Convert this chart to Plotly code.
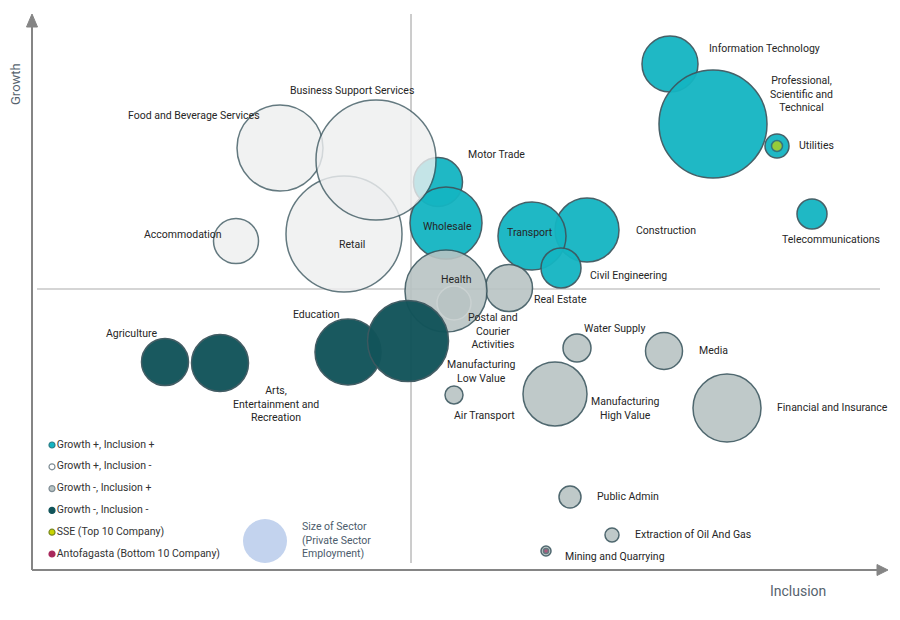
import plotly.graph_objects as go

# ---------------- data ----------------
# inclusion (x), growth (y), sector size (bubble diameter units)
teal_names = ["Construction", "Transport", "Civil Engineering", "Motor Trade", "Wholesale",
              "Information Technology", "Professional, Scientific and Technical",
              "Utilities", "Telecommunications"]
teal_incl = [17.6, 12.1, 15.0, 2.7, 3.5, 25.9, 30.2, 36.6, 40.1]
teal_growth = [5.9, 5.3, 2.1, 10.7, 6.6, 22.5, 16.5, 14.3, 7.5]
teal_size = [64, 68, 40, 49, 72, 56, 108, 24, 30]

light_names = ["Retail", "Food and Beverage Services", "Business Support Services", "Accommodation"]
light_incl = [-6.7, -13.1, -3.5, -17.5]
light_growth = [5.5, 14.1, 12.9, 4.8]
light_size = [116, 86, 120, 45]

grey_names = ["Real Estate", "Health", "Postal and Courier Activities", "Water Supply", "Media",
              "Manufacturing High Value", "Air Transport", "Financial and Insurance",
              "Public Admin", "Extraction of Oil And Gas", "Mining and Quarrying"]
grey_incl = [9.8, 3.5, 4.3, 16.6, 25.3, 14.4, 4.3, 31.6, 15.9, 20.1, 13.5]
grey_growth = [0.1, -0.2, -1.4, -5.9, -6.2, -10.5, -10.6, -11.9, -20.8, -24.6, -26.2]
grey_size = [47, 82, 34, 28, 37, 64, 18, 68, 22, 14, 10]

dark_names = ["Education", "Manufacturing Low Value", "Agriculture", "Arts, Entertainment and Recreation"]
dark_incl = [-6.3, -0.3, -24.6, -19.1]
dark_growth = [-6.3, -5.2, -7.3, -7.4]
dark_size = [66, 81, 47, 57]

companies = ["SSE (Top 10 Company)", "Antofagasta (Bottom 10 Company)"]
company_sector = ["Utilities", "Mining and Quarrying"]
company_size = [11, 5]

legend_labels = ["Growth +, Inclusion +", "Growth +, Inclusion -", "Growth -, Inclusion +",
                 "Growth -, Inclusion -", "SSE (Top 10 Company)", "Antofagasta (Bottom 10 Company)"]

# sector label annotations: text, x, y, xanchor
labels = [
    ("Information Technology", 29.6, 24.1, "left"),
    ("Professional,<br>Scientific and<br>Technical", 39.0, 19.5, "center"),
    ("Utilities", 38.6, 14.4, "left"),
    ("Telecommunications", 42.0, 5.0, "center"),
    ("Construction", 22.3, 5.9, "left"),
    ("Civil Engineering", 17.7, 1.4, "left"),
    ("Real Estate", 12.1, -1.0, "left"),
    ("Transport", 11.9, 5.7, "center"),
    ("Wholesale", 3.6, 6.3, "center"),
    ("Health", 4.5, 1.0, "center"),
    ("Motor Trade", 5.5, 13.5, "left"),
    ("Business Support Services", -5.9, 19.9, "center"),
    ("Food and Beverage Services", -21.7, 17.4, "center"),
    ("Accommodation", -22.8, 5.5, "center"),
    ("Retail", -5.9, 4.5, "center"),
    ("Education", -9.5, -2.5, "center"),
    ("Agriculture", -28.0, -4.4, "center"),
    ("Arts,<br>Entertainment and<br>Recreation", -13.5, -11.5, "center"),
    ("Postal and<br>Courier<br>Activities", 8.2, -4.2, "center"),
    ("Manufacturing<br>Low Value", 7.0, -8.2, "center"),
    ("Air Transport", 7.3, -12.6, "center"),
    ("Water Supply", 20.3, -3.9, "center"),
    ("Media", 28.6, -6.1, "left"),
    ("Manufacturing<br>High Value", 21.4, -11.9, "center"),
    ("Financial and Insurance", 36.4, -11.8, "left"),
    ("Public Admin", 18.4, -20.7, "left"),
    ("Extraction of Oil And Gas", 22.2, -24.5, "left"),
    ("Mining and Quarrying", 15.2, -26.7, "left"),
]

# ---------------- styles ----------------
FONT = "Roboto"
TEAL, LIGHT, GREY, DARK = "#14b5c2", "#eeeff0", "#b9c4c4", "#12545a"
OUTLINE = "#3d5860"
YELLOW, CRIMSON = "#c9d400", "#a8285c"
AXIS = "#858585"
TXT = "#262626"

# page body adds an 8px offset; ranges compensate so marks land where intended
X0 = -40.3
X1 = X0 + 90
Y1 = 28.1
Y0 = Y1 - 62

fig = go.Figure()

def bubbles(names, xs, ys, sizes, fill, op, line_colors=OUTLINE):
    fig.add_trace(go.Scatter(
        x=xs, y=ys, mode="markers", text=names, hoverinfo="text", showlegend=False,
        marker=dict(size=sizes, sizemode="diameter", sizeref=1, color=fill, opacity=op,
                    line=dict(color=line_colors, width=1.5))))

bubbles(teal_names, teal_incl, teal_growth, teal_size, TEAL, 0.95)
bubbles(light_names, light_incl, light_growth, light_size, LIGHT, 0.8)
grey_lines = ["#ccd3d3" if n.startswith("Postal") else OUTLINE for n in grey_names]
bubbles(grey_names, grey_incl, grey_growth, grey_size, GREY, 0.9, grey_lines)
bubbles(dark_names, dark_incl, dark_growth, dark_size, DARK, 0.97)

# company markers inside their sector bubbles
all_names = teal_names + light_names + grey_names + dark_names
all_x = teal_incl + light_incl + grey_incl + dark_incl
all_y = teal_growth + light_growth + grey_growth + dark_growth
cx = [all_x[all_names.index(s)] for s in company_sector]
cy = [all_y[all_names.index(s)] for s in company_sector]
fig.add_trace(go.Scatter(
    x=cx, y=cy, mode="markers", text=companies, hoverinfo="text", showlegend=False,
    marker=dict(size=company_size, color=[YELLOW, CRIMSON], line=dict(color=OUTLINE, width=1.5))))

# ---------------- custom legend ----------------
lg_x = -35.9
lg_y0, lg_dy = -15.6, -2.18
lg_colors = [TEAL, "#ffffff", GREY, DARK, YELLOW, CRIMSON]
lg_lines = ["#2b7f88", "#7f8d95", "#7f8d95", DARK, "#7a8a20", CRIMSON]
lg_ys = [lg_y0 + i * lg_dy for i in range(len(legend_labels))]
fig.add_trace(go.Scatter(
    x=[lg_x] * len(legend_labels), y=lg_ys, mode="markers+text", text=legend_labels,
    textposition="middle right", hoverinfo="skip", showlegend=False,
    textfont=dict(family=FONT, size=10.5, color="#333333"),
    marker=dict(size=6, color=lg_colors, line=dict(color=lg_lines, width=1.2))))

fig.add_trace(go.Scatter(
    x=[-14.6], y=[-25.2], mode="markers", hoverinfo="skip", showlegend=False,
    marker=dict(size=44, color="#c3d3ee", line=dict(width=0))))
fig.add_annotation(x=-11.1, y=-25.1, xref="x", yref="y", xanchor="left", yanchor="middle",
                   align="left", showarrow=False,
                   text="Size of Sector<br>(Private Sector<br>Employment)",
                   font=dict(family=FONT, size=10.5, color="#4c5c6c"))

# ---------------- labels ----------------
for t, x, y, anc in labels:
    fig.add_annotation(x=x, y=y, xref="x", yref="y", text=t, showarrow=False,
                       xanchor=anc, yanchor="middle", align="center",
                       font=dict(family=FONT, size=10.5, color=TXT))

fig.add_annotation(x=-39.6, y=20.5, text="Growth", textangle=-90, showarrow=False,
                   font=dict(family=FONT, size=13, color="#56636e"))
fig.add_annotation(x=38.7, y=-30.2, text="Inclusion", showarrow=False,
                   font=dict(family=FONT, size=14, color="#56636e"))

# ---------------- axes, quadrant lines ----------------
shapes = [
    dict(type="line", x0=0, x1=0, y0=-27.4, y1=27.5, line=dict(color="#9a9a9a", width=1)),
    dict(type="line", x0=-37.4, x1=46.9, y0=0, y1=0, line=dict(color="#ababab", width=1.2)),
    dict(type="line", x0=-37.9, x1=-37.9, y0=-28.1, y1=26.4, line=dict(color=AXIS, width=2)),
    dict(type="line", x0=-37.9, x1=46.7, y0=-28.1, y1=-28.1, line=dict(color=AXIS, width=2)),
    dict(type="path", path="M -38.45 26.2 L -37.35 26.2 L -37.9 27.5 Z",
         fillcolor=AXIS, line=dict(color=AXIS, width=1)),
    dict(type="path", path="M 46.6 -27.55 L 46.6 -28.65 L 47.7 -28.1 Z",
         fillcolor=AXIS, line=dict(color=AXIS, width=1)),
]
for s in shapes:
    s.update(xref="x", yref="y", layer="below")
fig.update_layout(shapes=shapes)

fig.update_layout(
    width=900, height=620, margin=dict(l=0, r=0, t=0, b=0),
    paper_bgcolor="white", plot_bgcolor="white",
    xaxis=dict(range=[X0, X1], visible=False, fixedrange=True),
    yaxis=dict(range=[Y0, Y1], visible=False, fixedrange=True),
    font=dict(family=FONT),
)

fig.write_html("out.html")
